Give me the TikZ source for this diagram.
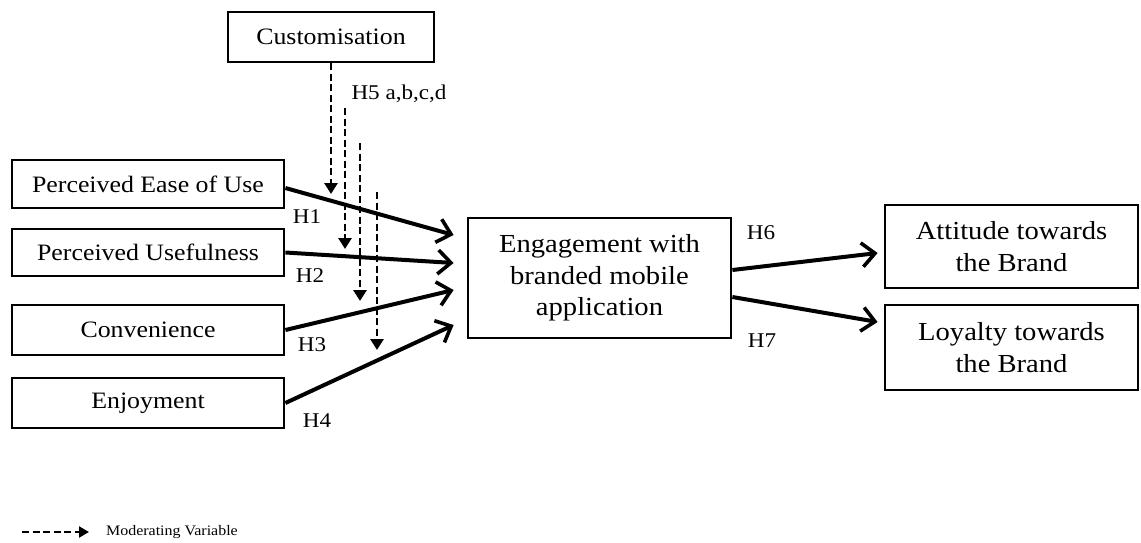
\documentclass[tikz,border=0pt]{standalone}
\usepackage{fontspec}
\setmainfont{Liberation Serif}[FakeStretch=1.1]
\usetikzlibrary{arrows.meta}
\begin{document}
\begin{tikzpicture}[x=1pt,y=-1pt,
  box/.style={draw,line width=2.8pt,inner sep=0pt,align=center,font=\fontsize{23.5}{29}\selectfont},
  bigbox/.style={box,font=\fontsize{26}{31.5}\selectfont},
  hlab/.style={font=\fontsize{21}{24}\selectfont,inner sep=0pt},
  path/.style={line width=4pt,-{Straight Barb[length=13pt,width=24pt,line width=3.6pt]}},
  moder/.style={line width=2.8pt,dash pattern=on 7pt off 3.5pt,-{Triangle[length=11pt,width=13pt]}}]
\useasboundingbox (0,0) rectangle (1141,543);
% nodes
\node[box,minimum width=206pt,minimum height=50pt] (cust) at (331,37) {Customisation};
\node[box,minimum width=272pt,minimum height=48pt] (peou) at (148,184) {Perceived Ease of Use};
\node[box,minimum width=272pt,minimum height=47pt] (pu) at (148,252.5) {Perceived Usefulness};
\node[box,minimum width=272pt,minimum height=50pt] (conv) at (148,330) {Convenience};
\node[box,minimum width=272pt,minimum height=50pt] (enj) at (148,403) {Enjoyment};
\node[bigbox,minimum width=263pt,minimum height=120pt] (eng) at (599.5,278) {Engagement with\\branded mobile\\application};
\node[bigbox,minimum width=253pt,minimum height=83pt] (att) at (1011.5,246.5) {Attitude towards\\the Brand};
\node[bigbox,minimum width=253pt,minimum height=85pt] (loy) at (1011.5,347.5) {Loyalty towards\\the Brand};
% paths
\draw[path] ([yshift=-4pt]peou.east) -- ([xshift=-13pt,yshift=43pt]eng.west);
\draw[path] (pu.east) -- ([xshift=-13pt,yshift=15pt]eng.west);
\draw[path] (conv.east) -- ([xshift=-13pt,yshift=-12pt]eng.west);
\draw[path] (enj.east) -- ([xshift=-13pt,yshift=-47pt]eng.west);
\draw[path] ([yshift=8pt]eng.east) -- ([xshift=-6pt,yshift=-6.5pt]att.west);
\draw[path] ([yshift=-19pt]eng.east) -- ([xshift=-6pt,yshift=25.5pt]loy.west);
% moderating lines
\coordinate (m1e) at (331,194);
\coordinate (m2s) at (345,108);
\coordinate (m2e) at (345,249);
\coordinate (m3s) at (360,143);
\coordinate (m3e) at (360,301);
\coordinate (m4s) at (377,192);
\coordinate (m4e) at (377,350);
\draw[moder] (cust.south) -- (m1e);
\draw[moder] (m2s) -- (m2e);
\draw[moder] (m3s) -- (m3e);
\draw[moder] (m4s) -- (m4e);
% labels
\node[hlab] (h1) at (307,217) {H1};
\node[hlab] (h2) at (310,276) {H2};
\node[hlab] (h3) at (312,345) {H3};
\node[hlab] (h4) at (317,421) {H4};
\node[hlab] (h5) at (399,94) {H5 a,b,c,d};
\node[hlab] (h6) at (761,233) {H6};
\node[hlab] (h7) at (762,341) {H7};
% legend
\coordinate (ls) at (22,532);
\coordinate (le) at (89,532);
\draw[line width=2.2pt,dash pattern=on 7pt off 3.5pt,-{Triangle[length=10pt,width=11pt]}] (ls) -- (le);
\node[anchor=west,inner sep=0pt,font=\fontsize{14.5}{17}\selectfont] (leg) at (106,532) {Moderating Variable};
\end{tikzpicture}
\end{document}
